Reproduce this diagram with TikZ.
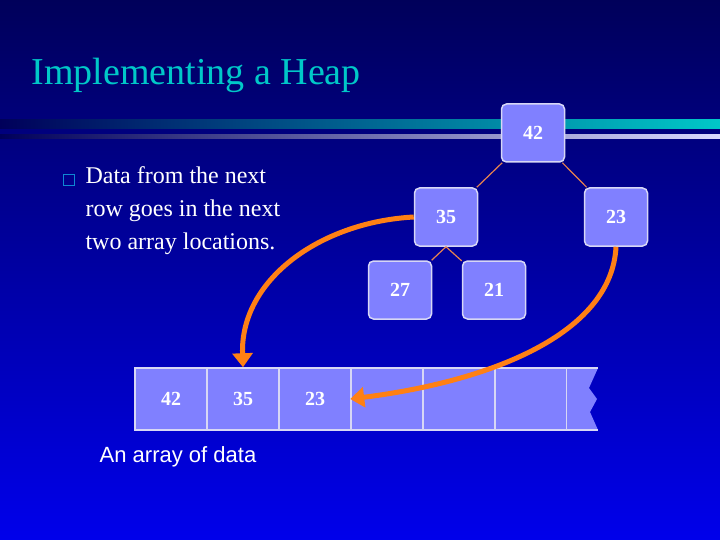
\documentclass[tikz,border=0pt]{standalone}
\usepackage{fontspec}
\setmainfont{Liberation Serif}
\newfontfamily\arialf{Liberation Sans}
\usetikzlibrary{arrows.meta}
\definecolor{topb}{RGB}{0,0,90}
\definecolor{botb}{RGB}{0,0,235}
\definecolor{boxf}{RGB}{128,128,255}
\definecolor{boxd}{RGB}{215,215,245}
\definecolor{tealc}{RGB}{0,200,200}
\definecolor{orng}{RGB}{255,128,20}
\definecolor{edgec}{RGB}{230,130,80}
\begin{document}
\begin{tikzpicture}[x=1pt,y=-1pt,
  tn/.style={draw=boxd,line width=1.5pt,fill=boxf,rounded corners=5pt,minimum width=63pt,minimum height=58pt,text=white,font=\fontsize{20}{20}\selectfont\bfseries},
  cellb/.style={draw=boxd,line width=1.5pt,fill=boxf,minimum width=72pt,minimum height=62pt,inner sep=0pt,text=white,font=\fontsize{20}{20}\selectfont\bfseries},
  tedge/.style={draw=edgec,line width=1.2pt},
  oarrow/.style={draw=orng,line width=5pt,-{Triangle[length=14pt,width=20pt]}}]
\useasboundingbox (0,0) rectangle (720,540);
\shade[top color=topb,bottom color=botb] (0,0) rectangle (720,540);
\shade[left color=topb,right color=tealc] (0,120) rectangle (720,129);
\shade[left color=topb,right color=white!85!blue] (0,135) rectangle (720,139);
\node[anchor=west,text=tealc,font=\fontsize{38}{38}\selectfont] (title) at (28,75) {Implementing a Heap};
\node[draw=cyan!70!blue,line width=1.5pt,minimum size=11pt,inner sep=0pt] (bul) at (69,180) {};
\node[anchor=north west,text=white,align=left,font=\fontsize{24}{33}\selectfont] (txt) at (82,163) {Data from the next\\row goes in the next\\two array locations.};
% array
\foreach \i/\v in {0/42,1/35,2/23,3/,4/,5/}{
  \node[cellb] (c\i) at (171+72*\i,399) {\v};
}
\fill[fill=boxf] (567,368) -- (598,368) -- (589,388) -- (597,399) -- (590,412) -- (598,430) -- (567,430) -- cycle;
\draw[boxd,line width=1.5pt] (567,368) -- (598,368) (567,430) -- (598,430);
\node[cellb,draw=none,fill=none] (c6) at (582,399) {};
\node[text=white,font=\arialf\fontsize{22}{22}\selectfont] (cap) at (178,457) {An array of data};
% tree
\node[tn] (n42) at (533,133) {42};
\node[tn] (n35) at (446,217) {35};
\node[tn] (n23) at (616,217) {23};
\node[tn] (n27) at (400,290) {27};
\node[tn] (n21) at (494,290) {21};
\draw[tedge] (n42) -- (n35);
\draw[tedge] (n42) -- (n23);
\draw[tedge] (n35.south) -- (n27);
\draw[tedge] (n35.south) -- (n21);
\draw[oarrow] (n35.west) .. controls (320,222) and (240,280) .. (c1.north);
\draw[oarrow] (n23.south) .. controls (612,330) and (500,380) .. (c3.west);
\end{tikzpicture}
\end{document}
